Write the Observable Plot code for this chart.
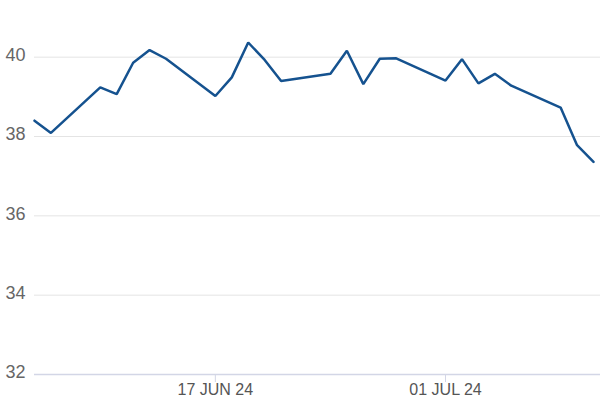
<!DOCTYPE html>
<html>
<head>
<meta charset="utf-8">
<script src="https://cdn.jsdelivr.net/npm/d3@7"></script>
<script src="https://cdn.jsdelivr.net/npm/@observablehq/plot@0.6"></script>
<style>
  html, body { margin: 0; padding: 0; background: #fff; }
</style>
</head>
<body>
<div id="chart"></div>
<script>
const dates = [
  "2024-06-06","2024-06-07","2024-06-10","2024-06-11","2024-06-12","2024-06-13","2024-06-14",
  "2024-06-17","2024-06-18","2024-06-19","2024-06-20","2024-06-21",
  "2024-06-24","2024-06-25","2024-06-26","2024-06-27","2024-06-28",
  "2024-07-01","2024-07-02","2024-07-03","2024-07-04","2024-07-05",
  "2024-07-08","2024-07-09","2024-07-10"
];
const values = [
  38.40, 38.09, 39.24, 39.07, 39.86, 40.18, 39.96,
  39.02, 39.49, 40.37, 39.93, 39.40,
  39.58, 40.16, 39.32, 39.96, 39.97,
  39.41, 39.95, 39.34, 39.58, 39.28,
  38.73, 37.78, 37.36
];
const yTicks = [32, 34, 36, 38, 40];
const xTickLabels = ["2024-06-17", "2024-07-01"];

const data = dates.map((d, i) => ({date: new Date(d), value: values[i]}));
const xTicks = xTickLabels.map(d => new Date(d));
const fmt = d3.utcFormat("%d %b %y");

const chart = Plot.plot({
  width: 600,
  height: 400,
  marginLeft: 34,
  marginRight: 0,
  marginTop: 17,
  marginBottom: 26,
  style: {fontFamily: "'Liberation Sans', Arial, sans-serif", background: "#fff"},
  x: {type: "utc", domain: [data[0].date, data[data.length - 1].date], insetRight: 7, label: null},
  y: {domain: [32, 41], label: null},
  marks: [
    Plot.ruleY(yTicks.filter(t => t !== 32), {stroke: "#e4e4e4", strokeWidth: 1}),
    Plot.ruleY([32], {stroke: "#d3d6e6", strokeWidth: 1.5}),
    Plot.axisY({ticks: yTicks, tickSize: 0, tickPadding: 9, fontSize: 18, fill: "#666", dy: -2, tickFormat: d => d, label: null}),
    Plot.axisX({ticks: xTicks, tickSize: 8, tickPadding: 1, stroke: "#d3d6e6", fill: "#555", fontSize: 16,
      tickFormat: d => fmt(d).toUpperCase(), label: null}),
    Plot.lineY(data, {x: "date", y: "value", stroke: "#15528f", strokeWidth: 2.5, strokeLinejoin: "miter"})
  ]
});
document.getElementById("chart").appendChild(chart);
</script>
</body>
</html>
